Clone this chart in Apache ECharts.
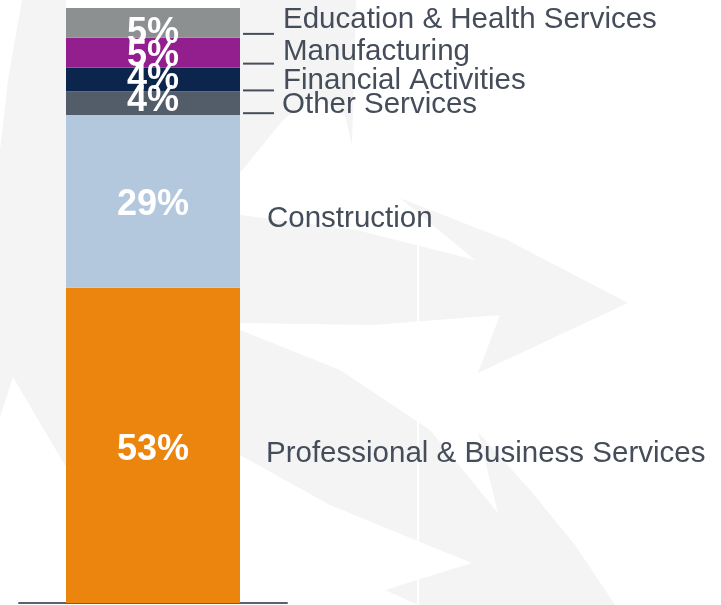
<!DOCTYPE html>
<html>
<head>
<meta charset="utf-8">
<script src="https://cdn.jsdelivr.net/npm/echarts@6/dist/echarts.min.js"></script>
<style>
  html, body { margin: 0; padding: 0; background: #fff; }
  #chart { width: 721px; height: 605px; }
</style>
</head>
<body>
<div id="chart"></div>
<script>
// stacked from bottom to top
const categories = ["Employment"];
const sectors = [
  "Professional & Business Services",
  "Construction",
  "Other Services",
  "Financial Activities",
  "Manufacturing",
  "Education & Health Services"
];
const shares = [53, 29, 4, 4, 5, 5];

// styling per segment (same order as sectors)
const colors = ["#ec850e", "#b3c7dd", "#535d69", "#0b254d", "#931f8f", "#8d9091"];
const valueOffsets = [[0, 5], [0, 4], [0, -2], [0, 0], [0, 3], [0, 10]];
const nameOffsets = [[26, 9], [27, 17], [42, 2], [43, 1], [43, -1], [43, -3]];
const leaderOffsets = [null, null, [3, 10], [3, 11], [3, 11], [3, 11]];

const FONT = "'Liberation Sans', Arial, sans-serif";
const TEXT = "#454d5a";
const BAR_W = 174;

const chart = echarts.init(document.getElementById("chart"), null, { renderer: "canvas" });

const series = [];

// visible bars with the percentage inside
sectors.forEach((name, i) => {
  series.push({
    name: name,
    type: "bar",
    stack: "share",
    barWidth: BAR_W,
    barGap: "-100%",
    silent: true,
    itemStyle: { color: colors[i] },
    label: {
      show: true,
      position: "inside",
      formatter: "{c}%",
      color: "#fff",
      fontFamily: FONT,
      fontWeight: "bold",
      fontSize: 36,
      offset: valueOffsets[i]
    },
    data: [shares[i]]
  });
});

// transparent copy that carries the sector names on the right
sectors.forEach((name, i) => {
  series.push({
    name: name + " label",
    type: "bar",
    stack: "names",
    barWidth: BAR_W,
    barGap: "-100%",
    silent: true,
    itemStyle: { color: "rgba(0,0,0,0)" },
    label: {
      show: true,
      position: "right",
      distance: 0,
      formatter: name,
      color: TEXT,
      fontFamily: FONT,
      fontSize: 29.5,
      offset: nameOffsets[i]
    },
    data: [shares[i]]
  });
});

// short leader lines for the thin segments at the top
sectors.forEach((name, i) => {
  const off = leaderOffsets[i];
  series.push({
    name: name + " leader",
    type: "bar",
    stack: "leaders",
    barWidth: BAR_W,
    barGap: "-100%",
    silent: true,
    itemStyle: { color: "rgba(0,0,0,0)" },
    label: {
      show: !!off,
      position: "right",
      distance: 0,
      formatter: "{ln| }",
      rich: {
        ln: { width: 31, height: 2, lineHeight: 2, fontSize: 2, padding: 0, backgroundColor: TEXT }
      },
      offset: off || [0, 0]
    },
    data: [shares[i]]
  });
});

// faint watermark in the background
const wm = "#f4f4f4";
const graphic = [
  { type: "polygon", z: -10, shape: { points: [[22, 0], [66, 0], [66, 467], [13, 377], [0, 417], [0, 150], [8, 80], [15, 40]] }, style: { fill: wm } },
  { type: "polygon", z: -10, shape: { points: [[240, 0], [356, 0], [352, 145], [345, 115], [315, 95], [283, 120], [240, 173]] }, style: { fill: wm } },
  { type: "polygon", z: -10, shape: { points: [[240, 215], [357, 230], [475, 260], [400, 198], [507, 240], [628, 303], [478, 373], [500, 315], [373, 325], [240, 323]] }, style: { fill: wm } },
  { type: "polygon", z: -10, shape: { points: [[240, 330], [340, 370], [430, 430], [498, 513], [478, 432], [530, 490], [575, 545], [615, 605], [418, 605], [385, 590], [472, 563], [415, 540], [330, 505], [240, 455]] }, style: { fill: wm } },
  { type: "line", z: -9, shape: { x1: 418, y1: 243, x2: 418, y2: 605 }, style: { stroke: "#fff", lineWidth: 2 } }
];

const option = {
  backgroundColor: "#fff",
  animation: false,
  graphic: graphic,
  grid: { left: 19, right: 434, top: 8, bottom: 2 },
  xAxis: {
    type: "category",
    data: categories,
    axisLine: { show: true, lineStyle: { color: "#5a6271", width: 2 } },
    axisTick: { show: false },
    axisLabel: { show: false }
  },
  yAxis: {
    type: "value",
    min: 0,
    max: 100,
    show: false,
    splitLine: { show: false }
  },
  series: series
};

chart.setOption(option);
</script>
</body>
</html>
